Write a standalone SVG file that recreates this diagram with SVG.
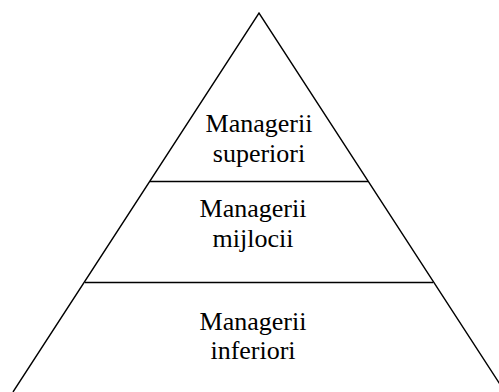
<svg xmlns="http://www.w3.org/2000/svg" width="499" height="392" viewBox="0 0 499 392">
<style>
.ln{stroke:#000;stroke-width:1.4;fill:none}
.t{font-family:"Liberation Serif","Times New Roman",serif;font-size:26px;fill:#000;text-anchor:middle}
</style>
<rect width="499" height="392" fill="#fff"/>
<g id="connectors">
<path class="ln" d="M13,392 L259,13 L505,392"/>
</g>
<g id="superiori">
<line class="ln" x1="150" y1="181.5" x2="368" y2="181.5"/>
<text class="t" x="259" y="132">Managerii</text>
<text class="t" x="259" y="162">superiori</text>
</g>
<g id="mijlocii">
<line class="ln" x1="85" y1="282.5" x2="433" y2="282.5"/>
<text class="t" x="253" y="217">Managerii</text>
<text class="t" x="253" y="247">mijlocii</text>
</g>
<g id="inferiori">
<text class="t" x="253" y="330">Managerii</text>
<text class="t" x="253" y="359">inferiori</text>
</g>
</svg>
